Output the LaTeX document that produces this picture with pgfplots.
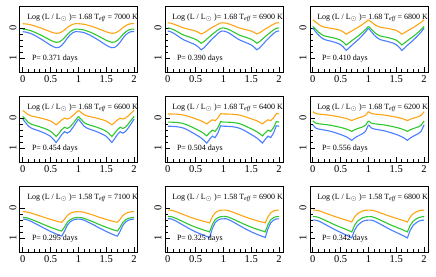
\documentclass[border=0pt]{standalone}
\usepackage{fontspec}
\setmainfont{Liberation Serif}
\usepackage{pgfplots}
\usepackage{pgfplotstable}
\pgfplotsset{compat=1.18}
\definecolor{corng}{RGB}{255,165,20}
\definecolor{cgrn}{RGB}{45,200,45}
\definecolor{cblu}{RGB}{75,125,255}

\pgfplotstableread{
ph o g b
0.00 -0.150 0.034 0.117
0.05 -0.143 0.043 0.128
0.10 -0.130 0.061 0.150
0.15 -0.110 0.088 0.183
0.20 -0.084 0.124 0.227
0.25 -0.054 0.164 0.276
0.30 -0.021 0.209 0.331
0.35 0.012 0.254 0.386
0.40 0.048 0.304 0.447
0.45 0.084 0.353 0.507
0.50 0.121 0.403 0.568
0.55 0.150 0.443 0.617
0.60 0.170 0.470 0.650
0.65 0.163 0.461 0.639
0.70 0.124 0.407 0.573
0.75 0.058 0.317 0.463
0.80 -0.021 0.209 0.331
0.85 -0.087 0.119 0.221
0.90 -0.130 0.061 0.150
0.95 -0.153 0.029 0.111
1.00 -0.150 0.034 0.117
}\tA
\pgfplotstableread{
ph o g b
0.00 -0.182 -0.010 0.093
0.05 -0.167 0.011 0.118
0.10 -0.141 0.048 0.163
0.15 -0.106 0.094 0.221
0.20 -0.068 0.146 0.285
0.25 -0.030 0.198 0.349
0.30 0.000 0.240 0.400
0.35 0.023 0.271 0.438
0.40 0.046 0.302 0.477
0.45 0.068 0.334 0.515
0.50 0.095 0.370 0.560
0.55 0.137 0.427 0.630
0.60 0.190 0.500 0.720
0.65 0.152 0.448 0.656
0.70 0.091 0.365 0.554
0.75 0.030 0.282 0.451
0.80 -0.027 0.204 0.355
0.85 -0.080 0.131 0.266
0.90 -0.133 0.058 0.176
0.95 -0.175 0.001 0.106
1.00 -0.182 -0.010 0.093
}\tB
\pgfplotstableread{
ph o g b
0.00 -0.280 -0.060 0.000
0.05 -0.208 0.033 0.111
0.10 -0.136 0.126 0.222
0.15 -0.078 0.200 0.311
0.20 -0.040 0.250 0.370
0.25 -0.021 0.275 0.400
0.30 -0.006 0.293 0.422
0.35 0.008 0.312 0.444
0.40 0.027 0.337 0.474
0.45 0.046 0.362 0.503
0.50 0.075 0.399 0.548
0.55 0.128 0.467 0.629
0.60 0.200 0.560 0.740
0.65 0.147 0.492 0.659
0.70 0.090 0.417 0.570
0.75 0.037 0.349 0.488
0.80 -0.016 0.281 0.407
0.85 -0.074 0.207 0.318
0.90 -0.136 0.126 0.222
0.95 -0.203 0.039 0.118
1.00 -0.280 -0.060 0.000
}\tC
\pgfplotstableread{
ph o g b
0.00 -0.260 -0.060 0.030
0.05 -0.188 0.041 0.147
0.10 -0.116 0.141 0.264
0.15 -0.078 0.195 0.326
0.20 -0.054 0.228 0.365
0.25 -0.034 0.255 0.397
0.30 -0.015 0.282 0.428
0.35 0.009 0.315 0.467
0.40 0.033 0.349 0.506
0.45 0.062 0.389 0.553
0.50 0.095 0.436 0.607
0.55 0.153 0.516 0.701
0.60 0.220 0.610 0.810
0.65 0.143 0.503 0.685
0.70 0.057 0.382 0.545
0.75 -0.001 0.302 0.451
0.80 0.028 0.342 0.498
0.85 -0.010 0.288 0.436
0.90 -0.087 0.181 0.311
0.95 -0.174 0.061 0.170
1.00 -0.260 -0.060 0.030
}\tD
\pgfplotstableread{
ph o g b
0.00 -0.141 0.130 0.269
0.05 -0.141 0.130 0.269
0.10 -0.138 0.135 0.275
0.15 -0.134 0.140 0.281
0.20 -0.127 0.150 0.293
0.25 -0.116 0.165 0.312
0.30 -0.098 0.190 0.342
0.35 -0.073 0.225 0.385
0.40 -0.044 0.265 0.434
0.45 -0.012 0.310 0.488
0.50 0.021 0.355 0.543
0.55 0.053 0.400 0.598
0.60 0.089 0.450 0.659
0.65 0.136 0.515 0.739
0.70 0.190 0.590 0.830
0.75 0.118 0.490 0.708
0.80 0.053 0.400 0.598
0.85 0.082 0.440 0.647
0.90 -0.008 0.315 0.495
0.95 -0.152 0.115 0.251
1.00 -0.141 0.130 0.269
}\tE
\pgfplotstableread{
ph o g b
0.00 -0.220 0.090 0.220
0.05 -0.160 0.160 0.324
0.10 -0.139 0.185 0.360
0.15 -0.130 0.195 0.376
0.20 -0.121 0.206 0.392
0.25 -0.112 0.216 0.407
0.30 -0.100 0.230 0.428
0.35 -0.085 0.248 0.454
0.40 -0.070 0.265 0.480
0.45 -0.052 0.286 0.511
0.50 -0.034 0.307 0.542
0.55 -0.013 0.332 0.579
0.60 0.011 0.360 0.620
0.65 0.041 0.395 0.672
0.70 0.080 0.440 0.740
0.75 0.035 0.388 0.662
0.80 0.002 0.349 0.605
0.85 -0.025 0.318 0.558
0.90 -0.052 0.286 0.511
0.95 -0.100 0.230 0.428
1.00 -0.220 0.090 0.220
}\tF
\pgfplotstableread{
ph o g b
0.00 0.115 0.309 0.364
0.05 0.119 0.314 0.370
0.10 0.137 0.337 0.399
0.15 0.163 0.370 0.440
0.20 0.193 0.408 0.488
0.25 0.222 0.445 0.535
0.30 0.252 0.483 0.582
0.35 0.285 0.525 0.635
0.40 0.315 0.563 0.682
0.45 0.344 0.600 0.729
0.50 0.374 0.638 0.777
0.55 0.400 0.671 0.818
0.60 0.426 0.704 0.859
0.65 0.452 0.737 0.901
0.70 0.470 0.760 0.930
0.75 0.366 0.628 0.765
0.80 0.241 0.469 0.564
0.85 0.174 0.384 0.458
0.90 0.137 0.337 0.399
0.95 0.119 0.314 0.370
1.00 0.115 0.309 0.364
}\tG
\pgfplotstableread{
ph o g b
0.00 0.063 0.277 0.353
0.05 0.063 0.277 0.353
0.10 0.085 0.304 0.386
0.15 0.117 0.342 0.432
0.20 0.153 0.385 0.485
0.25 0.189 0.428 0.538
0.30 0.225 0.471 0.591
0.35 0.261 0.515 0.643
0.40 0.297 0.558 0.696
0.45 0.328 0.596 0.742
0.50 0.360 0.633 0.789
0.55 0.387 0.666 0.828
0.60 0.414 0.698 0.868
0.65 0.441 0.731 0.907
0.70 0.463 0.758 0.940
0.75 0.490 0.790 0.980
0.80 0.288 0.547 0.683
0.85 0.153 0.385 0.485
0.90 0.094 0.315 0.399
0.95 0.067 0.282 0.360
1.00 0.063 0.277 0.353
}\tH
\pgfplotstableread{
ph o g b
0.00 0.065 0.282 0.398
0.05 0.065 0.282 0.398
0.10 0.082 0.304 0.423
0.15 0.111 0.342 0.467
0.20 0.145 0.385 0.518
0.25 0.179 0.428 0.568
0.30 0.212 0.471 0.618
0.35 0.246 0.515 0.669
0.40 0.279 0.558 0.719
0.45 0.309 0.596 0.763
0.50 0.338 0.633 0.807
0.55 0.368 0.671 0.851
0.60 0.397 0.709 0.896
0.65 0.426 0.747 0.940
0.70 0.460 0.790 0.990
0.75 0.292 0.574 0.738
0.80 0.187 0.439 0.581
0.85 0.132 0.369 0.499
0.90 0.090 0.315 0.436
0.95 0.069 0.288 0.404
1.00 0.065 0.282 0.398
}\tI

\pgfplotsset{
  lc/.style={line width=1.1pt, no marks},
  panelstyle/.style={
    anchor=south west, scale only axis, width=118pt, height=66pt,
    xmin=-0.05, xmax=2.07, ymin=-0.74, ymax=1.46, y dir=reverse,
    xtick={0,0.5,1,1.5,2}, minor x tick num=4,
    ytick={0,1}, minor y tick num=4,
    xtick pos=bottom, ytick pos=left, tick align=inside,
    major tick length=5pt, minor tick length=3pt,
    axis line style={line width=1pt}, every tick/.style={line width=0.7pt, black},
    ticklabel style={font=\fontsize{10.5}{12}\selectfont},
    /pgf/number format/assume math mode=true,
    yticklabel style={rotate=90, anchor=south},
    clip=true,
  }
}
\newcommand{\panel}[5]{%
\begin{axis}[panelstyle, at={(#1)}]
\addplot[lc, corng] table[x=ph, y=o]{#2};
\addplot[lc, corng] table[x expr=\thisrow{ph}+1, y=o]{#2};
\addplot[lc, cgrn] table[x=ph, y=g]{#2};
\addplot[lc, cgrn] table[x expr=\thisrow{ph}+1, y=g]{#2};
\addplot[lc, cblu] table[x=ph, y=b]{#2};
\addplot[lc, cblu] table[x expr=\thisrow{ph}+1, y=b]{#2};
\node[anchor=west, inner sep=0pt, font=\fontsize{8}{9.5}\selectfont] at (rel axis cs:0.06,0.82) {Log (L / L$_\odot$ )= #3 T\textsubscript{\itshape eff} = #4 K};
\node[anchor=west, inner sep=0pt, font=\fontsize{8}{9.5}\selectfont] at (rel axis cs:0.1,0.2) {P= #5 days};
\end{axis}}

\begin{document}
\begin{tikzpicture}
\path[use as bounding box] (0,0) rectangle (436pt,-276pt);
\panel{20pt,-72pt}{\tA}{1.68}{7000}{0.371}
\panel{165pt,-72pt}{\tB}{1.68}{6900}{0.390}
\panel{310pt,-72pt}{\tC}{1.68}{6800}{0.410}
\panel{20pt,-162pt}{\tD}{1.68}{6600}{0.454}
\panel{165pt,-162pt}{\tE}{1.68}{6400}{0.504}
\panel{310pt,-162pt}{\tF}{1.68}{6200}{0.556}
\panel{20pt,-252pt}{\tG}{1.58}{7100}{0.295}
\panel{165pt,-252pt}{\tH}{1.58}{6900}{0.325}
\panel{310pt,-252pt}{\tI}{1.58}{6800}{0.342}
\end{tikzpicture}
\end{document}
